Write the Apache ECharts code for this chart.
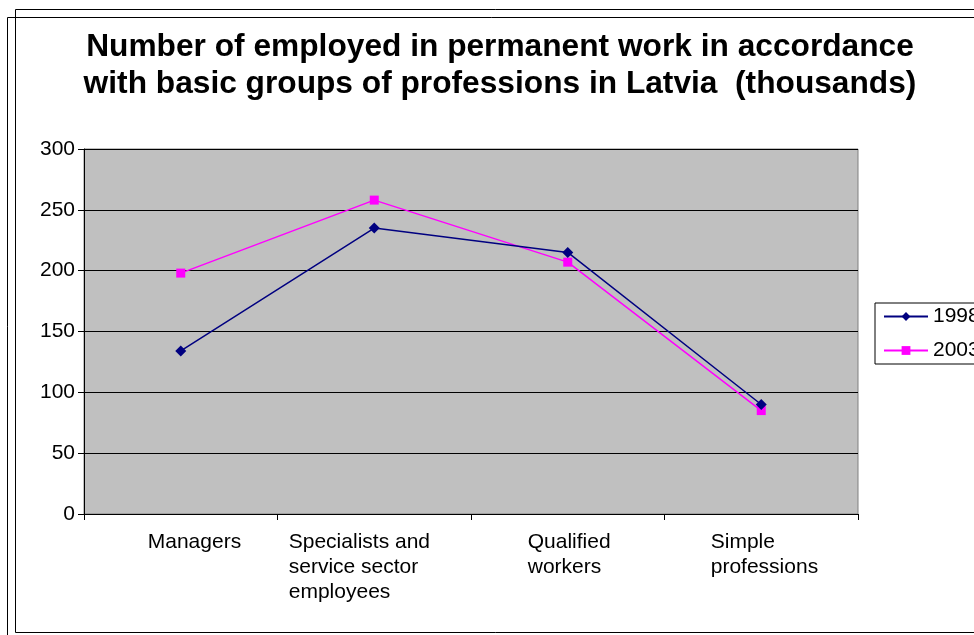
<!DOCTYPE html>
<html>
<head>
<meta charset="utf-8">
<script src="https://cdn.jsdelivr.net/npm/echarts@6/dist/echarts.min.js"></script>
<style>
  html, body { margin: 0; padding: 0; background: #fff; }
  #chart { width: 974px; height: 635px; }
</style>
</head>
<body>
<div id="chart"></div>
<script>
// Employed in permanent work by basic profession group, Latvia (thousands)
const categories = ['Managers', 'Specialists and\nservice sector\nemployees', 'Qualified\nworkers', 'Simple\nprofessions'];
const values1998 = [134, 235, 215, 90];
const values2003 = [198, 258, 207, 85];
const seriesNames = ['1998', '2003'];
const yTicks = { min: 0, max: 300, step: 50 };

const FONT = 'Liberation Sans, Arial, sans-serif';

// left-aligned label blocks, each block width chosen per category
const labelBlockWidths = [66, 171, 80, 101];
const rich = {};
labelBlockWidths.forEach((w, i) => {
  rich['c' + i] = { width: w, align: 'left', fontSize: 21, lineHeight: 25, color: '#000', fontFamily: FONT };
});

const chart = echarts.init(document.getElementById('chart'), null, { renderer: 'canvas' });

chart.setOption({
  backgroundColor: '#fff',
  animation: false,
  textStyle: { fontFamily: FONT },
  graphic: [
    { type: 'rect', shape: { x: 7.5, y: 17.5, width: 1200, height: 1000 }, style: { fill: null, stroke: '#000', lineWidth: 1 }, silent: true, z: -1 },
    { type: 'rect', shape: { x: 15.5, y: 9.5, width: 1200, height: 623 }, style: { fill: null, stroke: '#000', lineWidth: 1 }, silent: true, z: -1 }
  ],
  title: {
    text: 'Number of employed in permanent work in accordance\nwith basic groups of professions in Latvia  (thousands)',
    left: 495,
    textAlign: 'center',
    top: 24,
    textStyle: { fontSize: 31.7, fontWeight: 'bold', color: '#000', lineHeight: 37, fontFamily: FONT }
  },
  legend: {
    orient: 'vertical',
    left: 875,
    top: 303,
    padding: [3, 40, 3, 8],
    itemGap: 13,
    itemWidth: 44,
    itemHeight: 11,
    backgroundColor: '#fff',
    borderColor: '#000',
    borderWidth: 1,
    borderRadius: 0,
    textStyle: { fontSize: 21, color: '#000', fontFamily: FONT },
    data: seriesNames
  },
  grid: {
    left: 84, top: 149, width: 774, height: 365,
    show: true, backgroundColor: '#C0C0C0', borderColor: '#808080', borderWidth: 1,
    containLabel: false
  },
  xAxis: {
    type: 'category',
    data: categories,
    boundaryGap: true,
    axisLine: { show: true, lineStyle: { color: '#000', width: 1 } },
    axisTick: { show: true, inside: false, length: 6, alignWithLabel: false, interval: 0, lineStyle: { color: '#000' } },
    axisLabel: {
      interval: 0,
      margin: 15.5,
      align: 'center',
      verticalAlign: 'top',
      formatter: (v, i) => v.split('\n').map(l => '{c' + i + '|' + l + '}').join('\n'),
      rich: rich
    },
    splitLine: { show: false }
  },
  yAxis: {
    type: 'value',
    min: yTicks.min,
    max: yTicks.max,
    interval: yTicks.step,
    axisLine: { show: true, lineStyle: { color: '#000', width: 1 } },
    axisTick: { show: true, inside: false, length: 6, lineStyle: { color: '#000' } },
    axisLabel: { margin: 9, fontSize: 21, color: '#000', fontFamily: FONT },
    splitLine: { show: true, lineStyle: { color: '#000', width: 1 } }
  },
  series: [
    {
      name: seriesNames[0],
      type: 'line',
      data: values1998,
      symbol: 'diamond',
      symbolSize: 11,
      itemStyle: { color: '#000080' },
      lineStyle: { color: '#000080', width: 1.5 },
      z: 3
    },
    {
      name: seriesNames[1],
      type: 'line',
      data: values2003,
      symbol: 'rect',
      symbolSize: 9,
      itemStyle: { color: '#FF00FF' },
      lineStyle: { color: '#FF00FF', width: 1.5 },
      z: 2
    }
  ]
});
</script>
</body>
</html>
